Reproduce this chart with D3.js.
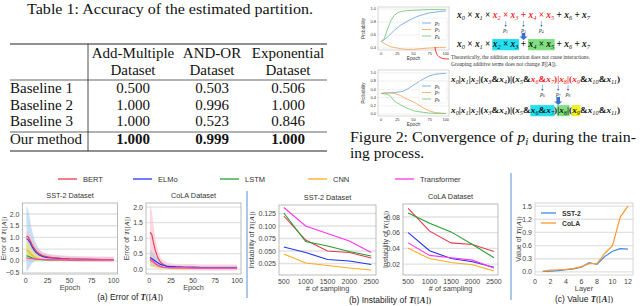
<!DOCTYPE html>
<html><head><meta charset="utf-8">
<script src="https://cdn.jsdelivr.net/npm/d3@7"></script>
<style>body{margin:0;background:#fff}svg{display:block}</style>
</head><body>
<svg id="c" width="640" height="306"></svg>
<script>
// ---------------- DATA ----------------
const tableTitle = "Table 1: Accuracy of the estimated partition.";
const tableCols = ["Add-Multiple", "AND-OR", "Exponential"];
const tableColSub = "Dataset";
const tableRows = ["Baseline 1", "Baseline 2", "Baseline 3", "Our method"];
const tableVals = [[0.500, 0.503, 0.506], [1.000, 0.996, 1.000], [1.000, 0.523, 0.846], [1.000, 0.999, 1.000]];

// Figure 2 small plots
const convEpochs1 = [0, 5, 10, 15, 20, 25, 30, 40, 50, 60, 75, 90, 100];
const p2 = [0.50, 0.53, 0.57, 0.62, 0.67, 0.71, 0.75, 0.81, 0.86, 0.90, 0.94, 0.96, 0.97];
const p3 = [0.50, 0.47, 0.44, 0.42, 0.41, 0.40, 0.39, 0.38, 0.38, 0.39, 0.40, 0.41, 0.41];
const p4 = [0.50, 0.55, 0.70, 0.82, 0.90, 0.94, 0.96, 0.975, 0.98, 0.985, 0.99, 0.99, 0.99];
const convEpochs2 = [0, 10, 15, 20, 30, 35, 40, 45, 50, 55, 65, 75, 85, 100];
const p6 = [0.50, 0.51, 0.51, 0.52, 0.54, 0.56, 0.60, 0.65, 0.70, 0.75, 0.85, 0.93, 0.97, 0.99];
const p7 = [0.50, 0.52, 0.51, 0.50, 0.45, 0.40, 0.36, 0.33, 0.29, 0.25, 0.15, 0.07, 0.03, 0.01];
const p8 = [0.50, 0.48, 0.42, 0.32, 0.22, 0.18, 0.14, 0.11, 0.08, 0.06, 0.04, 0.02, 0.015, 0.01];

// formulas: [variable subscript | operator, colour flag, highlight flag]
const formula1 = [["x0"],[" × "],["x1"],[" × "],["x2","r"],[" × ","r"],["x3","r"],[" + ","r"],["x4","r"],[" × ","r"],["x5","r"],[" + "],["x6"],[" + "],["x7"]];
const formula2 = [["x0"],[" × "],["x1"],[" × "],["x2","","c"],[" × ","","c"],["x3","","c"],[" + "],["x4","","g"],[" × ","","g"],["x5","","g"],[" + "],["x6"],[" + "],["x7"]];
const formula3 = [["x0"],["|"],["x1"],["|"],["x2"],["|("],["x3"],["&"],["x4"],[")|("],["x5"],["&"],["x6","r"],["&","r"],["x7","r"],[")","r"],["|","r"],["x8","r"],["|","r"],["(","r"],["x9","r"],["&"],["x10"],["&"],["x11"],[")"]];
const formula4 = [["x0"],["|"],["x1"],["|"],["x2"],["|("],["x3"],["&"],["x4"],[")|("],["x5"],["&"],["x6","","c"],["&","","c"],["x7","","c"],[")"],["|","","g"],["x8","","g"],["|","","g"],["("],["x9","","y"],["&"],["x10"],["&"],["x11"],[")"]];
const arrows1 = [[5, "2"], [7, "3"], [9, "4"]];
const arrows3 = [[13, "6"], [16, "7"], [18, "8"]];
const noteLines = ["Theoretically, the addition operation does not cause interactions.", "Grouping additive terms does not change "];

// Bottom figure
const models = ["BERT", "ELMo", "LSTM", "CNN", "Transformer"];
const modelColors = ["#e8384f", "#2233ee", "#22a030", "#ffac1c", "#ff33ee"];
const bandColors = ["#ffb6c6", "#9cc6ea", "#a6dca0", "#eded50", "#f5b0f0"];

const epochsA = [1, 3, 5, 7, 10, 13, 16, 20, 25, 30, 40, 50, 60, 70, 80, 90, 100];
// SST-2 error (mean, low, high)
const sstBert   = [1.05,1.02,0.88,0.72,0.52,0.38,0.29,0.22,0.17,0.14,0.11,0.09,0.08,0.07,0.07,0.06,0.06];
const sstBertLo = [0.85,0.82,0.68,0.52,0.34,0.22,0.15,0.09,0.05,0.02,-0.01,-0.02,-0.03,-0.04,-0.04,-0.05,-0.05];
const sstBertHi = [1.25,1.22,1.08,0.92,0.72,0.56,0.45,0.36,0.30,0.27,0.24,0.22,0.21,0.20,0.19,0.19,0.18];
const sstElmo   = [0.95,0.90,0.78,0.62,0.44,0.32,0.24,0.18,0.14,0.12,0.10,0.08,0.07,0.07,0.06,0.06,0.06];
const sstElmoLo = [-0.45,-0.38,-0.25,-0.12,-0.02,0.0,0.01,0.01,0.0,-0.01,-0.01,-0.02,-0.02,-0.02,-0.03,-0.03,-0.03];
const sstElmoHi = [2.35,2.15,1.80,1.36,0.92,0.65,0.48,0.36,0.29,0.25,0.21,0.19,0.17,0.16,0.16,0.15,0.15];
const sstLstm   = [0.22,0.20,0.17,0.13,0.09,0.07,0.06,0.05,0.04,0.04,0.04,0.03,0.03,0.03,0.03,0.03,0.03];
const sstLstmLo = [0.05,0.05,0.04,0.03,0.02,0.01,0.01,0.0,0.0,0.0,0.0,0.0,0.0,0.0,0.0,0.0,0.0];
const sstLstmHi = [0.40,0.36,0.30,0.24,0.17,0.13,0.11,0.09,0.08,0.08,0.07,0.07,0.07,0.06,0.06,0.06,0.06];
const sstCnn    = [0.45,0.42,0.34,0.26,0.17,0.12,0.09,0.07,0.05,0.05,0.04,0.04,0.04,0.03,0.03,0.03,0.03];
const sstCnnLo  = [0.08,0.06,0.04,0.02,0.01,0,0,0,0,0,0,0,0,0,0,0,0];
const sstCnnHi  = [0.82,0.78,0.64,0.50,0.34,0.24,0.18,0.14,0.11,0.10,0.09,0.08,0.08,0.07,0.07,0.07,0.07];
const sstTrans  = [0.12,0.11,0.10,0.09,0.08,0.07,0.06,0.06,0.05,0.05,0.05,0.04,0.04,0.04,0.04,0.04,0.04];
const sstTransLo= [0.06,0.06,0.05,0.05,0.04,0.03,0.03,0.02,0.02,0.02,0.02,0.01,0.01,0.01,0.01,0.01,0.01];
const sstTransHi= [0.18,0.17,0.15,0.14,0.12,0.11,0.10,0.09,0.09,0.08,0.08,0.08,0.07,0.07,0.07,0.07,0.07];
// CoLA error
const colaBert   = [1.18,1.12,0.85,0.60,0.36,0.22,0.15,0.10,0.08,0.07,0.06,0.06,0.05,0.05,0.05,0.05,0.05];
const colaBertLo = [0.30,0.34,0.25,0.20,0.12,0.06,0.03,0.0,-0.02,-0.03,-0.04,-0.04,-0.05,-0.05,-0.05,-0.05,-0.05];
const colaBertHi = [2.05,1.90,1.45,1.00,0.60,0.38,0.28,0.22,0.19,0.17,0.16,0.16,0.15,0.15,0.15,0.15,0.15];
const colaElmo   = [0.37,0.34,0.30,0.26,0.20,0.15,0.12,0.09,0.08,0.07,0.06,0.06,0.05,0.05,0.05,0.05,0.05];
const colaElmoLo = [0.12,0.10,0.10,0.10,0.08,0.06,0.05,0.03,0.03,0.02,0.01,0.01,0.0,0.0,0.0,0.0,0.0];
const colaElmoHi = [0.62,0.58,0.50,0.42,0.32,0.24,0.19,0.15,0.13,0.12,0.11,0.10,0.10,0.10,0.10,0.10,0.10];
const colaLstm   = [0.28,0.26,0.22,0.17,0.11,0.08,0.06,0.05,0.04,0.04,0.03,0.03,0.03,0.03,0.03,0.03,0.03];
const colaLstmLo = [0.08,0.07,0.06,0.05,0.03,0.02,0.01,0.01,0.0,0.0,0.0,0.0,0.0,0.0,0.0,0.0,0.0];
const colaLstmHi = [0.48,0.45,0.38,0.29,0.19,0.14,0.11,0.09,0.08,0.08,0.07,0.07,0.07,0.07,0.07,0.07,0.07];
const colaCnn    = [0.30,0.27,0.22,0.16,0.10,0.07,0.05,0.04,0.03,0.03,0.03,0.02,0.02,0.02,0.02,0.02,0.02];
const colaCnnLo  = [0.10,0.08,0.06,0.04,0.02,0.01,0,0,0,0,0,0,0,0,0,0,0];
const colaCnnHi  = [0.50,0.46,0.38,0.28,0.18,0.13,0.10,0.08,0.07,0.06,0.06,0.05,0.05,0.05,0.05,0.05,0.05];
const colaTrans  = [0.32,0.29,0.24,0.18,0.12,0.08,0.06,0.05,0.04,0.04,0.04,0.03,0.03,0.03,0.03,0.03,0.03];
const colaTransLo= [0.14,0.12,0.10,0.07,0.04,0.03,0.02,0.01,0.01,0.01,0.01,0.0,0.0,0.0,0.0,0.0,0.0];
const colaTransHi= [0.50,0.46,0.38,0.29,0.20,0.14,0.11,0.09,0.08,0.08,0.07,0.07,0.07,0.07,0.07,0.07,0.07];

// Instability
const samplings = [500, 1000, 1500, 2000, 2500];
const instSST = [
  [0.120, 0.072, 0.050, 0.047, 0.036], // BERT
  [0.058, 0.047, 0.033, 0.030, 0.023], // ELMo
  [0.126, 0.069, 0.060, 0.049, 0.040], // LSTM
  [0.044, 0.026, 0.021, 0.016, 0.012], // CNN
  [0.137, 0.100, 0.085, 0.070, 0.047]  // Transformer
];
const instCoLA = [
  [0.091, 0.062, 0.047, 0.045, 0.036],
  [0.060, 0.037, 0.027, 0.023, 0.016],
  [0.085, 0.072, 0.061, 0.045, 0.028],
  [0.040, 0.027, 0.022, 0.019, 0.011],
  [0.047, 0.031, 0.028, 0.025, 0.015]
];

// Value per layer
const layers = [1, 2, 3, 4, 5, 6, 7, 8, 9, 10, 11, 12];
const valSST  = [0.01, 0.02, 0.03, 0.05, 0.07, 0.11, 0.21, 0.17, 0.35, 0.47, 0.53, 0.52];
const valCoLA = [0.02, 0.04, 0.05, 0.06, 0.08, 0.12, 0.19, 0.19, 0.42, 0.60, 1.25, 1.50];

// ---------------- DRAW ----------------
const SERIF = "'Liberation Serif','Times New Roman',serif";
const SANS = "'Liberation Sans',Arial,sans-serif";
const svg = d3.select("#c");
svg.append("rect").attr("width", 640).attr("height", 306).attr("fill", "#fff");

// ===== Table =====
const tb = svg.append("g").attr("font-family", SERIF).attr("fill", "#111");
tb.append("text").attr("x", 27).attr("y", 14).attr("font-size", 15.5)
  .attr("textLength", 286).attr("lengthAdjust", "spacingAndGlyphs").text(tableTitle);
const colX = [133, 212, 288];
const rowY = [93, 110, 126, 144];
[[44, 1.1], [80, 0.7], [132, 0.7], [151, 1.1]].forEach(([y, w]) =>
  tb.append("line").attr("x1", 10).attr("x2", 327).attr("y1", y).attr("y2", y).attr("stroke", "#222").attr("stroke-width", w));
tb.append("line").attr("x1", 88).attr("x2", 88).attr("y1", 44).attr("y2", 151).attr("stroke", "#222").attr("stroke-width", 0.8);
tableCols.forEach((c, i) => {
  tb.append("text").attr("x", colX[i]).attr("y", 58).attr("text-anchor", "middle").attr("font-size", 15).text(c);
  tb.append("text").attr("x", colX[i]).attr("y", 75).attr("text-anchor", "middle").attr("font-size", 15).text(tableColSub);
});
const f3 = d3.format(".3f");
tableRows.forEach((r, j) => {
  tb.append("text").attr("x", 10).attr("y", rowY[j]).attr("font-size", 15).text(r);
  tableVals[j].forEach((v, i) => {
    tb.append("text").attr("x", colX[i]).attr("y", rowY[j]).attr("text-anchor", "middle").attr("font-size", 15)
      .attr("font-weight", j === 3 ? "bold" : "normal").text(f3(v));
  });
});

// ===== Figure 2 =====
function smallPlot(x0, x1, y0, y1, yd, yt, epochs, series, cols, labels, legY) {
  const g = svg.append("g").attr("font-family", SANS);
  const x = d3.scaleLinear().domain([-5, 105]).range([x0, x1]);
  const y = d3.scaleLinear().domain(yd).range([y1, y0]);
  yt.forEach(t => {
    g.append("line").attr("x1", x0).attr("x2", x1).attr("y1", y(t)).attr("y2", y(t)).attr("stroke", "#e6e6e6").attr("stroke-width", 0.6);
    g.append("text").attr("x", x0 - 2).attr("y", y(t) + 1.3).attr("text-anchor", "end").attr("font-size", 4).attr("fill", "#333").text(d3.format(".1f")(t));
  });
  [0, 25, 50, 75, 100].forEach(t => {
    g.append("text").attr("x", x(t)).attr("y", y1 + 5).attr("text-anchor", "middle").attr("font-size", 4).attr("fill", "#333").text(t);
  });
  g.append("rect").attr("x", x0).attr("y", y0).attr("width", x1 - x0).attr("height", y1 - y0).attr("fill", "none").attr("stroke", "#bbb").attr("stroke-width", 0.6);
  g.append("text").attr("x", (x0 + x1) / 2).attr("y", y1 + 9.5).attr("text-anchor", "middle").attr("font-size", 4.8).attr("fill", "#333").text("Epoch");
  g.append("text").attr("transform", `translate(${x0 - 13},${(y0 + y1) / 2}) rotate(-90)`).attr("text-anchor", "middle").attr("font-size", 4.5).attr("fill", "#444").text("Probability");
  const line = d3.line().x((d, i) => x(epochs[i])).y(d => y(d));
  series.forEach((s, k) => g.append("path").attr("d", line(s)).attr("fill", "none").attr("stroke", cols[k]).attr("stroke-width", 0.9));
  g.append("rect").attr("x", x1 - 30).attr("y", legY - 5).attr("width", 28).attr("height", 22).attr("fill", "#fff").attr("fill-opacity", 0.85).attr("stroke", "#ddd").attr("stroke-width", 0.4).attr("rx", 1);
  labels.forEach((l, k) => {
    const yy = legY + k * 6.5;
    g.append("line").attr("x1", x1 - 27).attr("x2", x1 - 18).attr("y1", yy).attr("y2", yy).attr("stroke", cols[k]).attr("stroke-width", 0.9);
    const t = g.append("text").attr("x", x1 - 14).attr("y", yy + 1.6).attr("font-size", 5.5).attr("font-family", SERIF).attr("fill", "#222");
    t.append("tspan").attr("font-style", "italic").text("p");
    t.append("tspan").attr("font-size", 3.6).attr("dy", 1).text(l);
  });
}
const pCols = ["#74a9dc", "#f6a862", "#78c878"];
smallPlot(378, 449, 7, 50, [0.37, 1.03], [0.4, 0.6, 0.8, 1.0], convEpochs1, [p2, p3, p4], pCols, ["2", "3", "4"], 23);
smallPlot(378, 449, 70, 116, [-0.05, 1.07], [0.0, 0.2, 0.4, 0.6, 0.8, 1.0], convEpochs2, [p6, p7, p8], pCols, ["6", "7", "8"], 86);

const HL = { c: "#22e0f0", g: "#80e080", y: "#f5f01e" };
function formula(x, y, toks, fs, targetW) {
  const g = svg.append("g").attr("font-family", SERIF);
  const inner = g.append("g");
  let cx = 0;
  const pos = [];
  toks.forEach(tk => {
    const s = tk[0];
    const col = tk[1] === "r" ? "#ee2222" : "#111";
    const t = inner.append("text").attr("x", cx).attr("y", 0).attr("font-size", fs).attr("fill", col);
    if (s[0] === "x" && s.length > 1) {
      t.append("tspan").attr("font-style", "italic").attr("font-weight", "bold").text("x");
      t.append("tspan").attr("font-size", fs * 0.68).attr("dy", fs * 0.22).attr("font-style", "italic").text(s.slice(1));
    } else {
      t.attr("font-weight", "bold").attr("xml:space", "preserve").style("white-space", "pre").text(s);
    }
    const w = t.node().getComputedTextLength();
    pos.push({ x: cx, w });
    cx += w;
  });
  const sc = targetW / cx;
  inner.attr("transform", `translate(${x},${y}) scale(${sc})`);
  let i = 0;
  while (i < toks.length) {
    const h = toks[i][2];
    if (h) {
      let j = i;
      while (j + 1 < toks.length && toks[j + 1][2] === h) j++;
      const a = pos[i].x, b = pos[j].x + pos[j].w;
      inner.insert("rect", ":first-child").attr("x", a - 0.5).attr("y", -fs * 0.85).attr("width", b - a + 1).attr("height", fs * 1.2).attr("fill", HL[h]);
      i = j + 1;
    } else i++;
  }
  return pos.map(p => ({ x: x + (p.x + p.w / 2) * sc, w: p.w * sc }));
}
function arrowDown(g, x, ya, yb, col, w) {
  g.append("line").attr("x1", x).attr("x2", x).attr("y1", ya).attr("y2", yb - 1.5).attr("stroke", col).attr("stroke-width", w);
  g.append("path").attr("d", `M${x - 1.2},${yb - 2}L${x + 1.2},${yb - 2}L${x},${yb}Z`).attr("fill", col);
}
function bigArrow(g, x, ya, yb) {
  g.append("path").attr("d", `M${x - 1.8},${ya}h3.6v${yb - ya - 3.5}h2.2l-4,3.5l-4,-3.5h2.2z`).attr("fill", "#3a6fd0");
}
const ann = svg.append("g");
const pos1 = formula(457, 18, formula1, 10, 133);
arrows1.forEach(([k, l]) => {
  arrowDown(ann, pos1[k].x, 21, 27, "#3a6fd0", 0.5);
  const t = ann.append("text").attr("x", pos1[k].x).attr("y", 32).attr("text-anchor", "middle").attr("font-size", 5.5).attr("font-family", SERIF).attr("fill", "#222");
  t.append("tspan").attr("font-style", "italic").text("p");
  t.append("tspan").attr("font-size", 3.6).attr("dy", 1).text(l);
});
bigArrow(ann, pos1[7].x, 33, 40);
formula(457, 47, formula2, 10, 133);
ann.append("path").attr("d", "M435,47 C436,57 440,59 449,59").attr("fill", "none").attr("stroke", "#ee2222").attr("stroke-width", 0.9);
ann.append("text").attr("x", 451).attr("y", 59).attr("font-family", SERIF).attr("font-size", 5.4).attr("fill", "#333").text(noteLines[0]);
const nt = ann.append("text").attr("x", 451).attr("y", 66).attr("font-family", SERIF).attr("font-size", 5.4).attr("fill", "#333").text(noteLines[1]);
nt.append("tspan").attr("font-style", "italic").attr("font-weight", "bold").text("T");
nt.append("tspan").text("([");
nt.append("tspan").attr("font-style", "italic").attr("font-weight", "bold").text("A");
nt.append("tspan").text("]).");

const pos3 = formula(451, 82, formula3, 10, 169);
arrows3.forEach(([k, l]) => {
  arrowDown(ann, pos3[k].x, 85, 91, "#3a6fd0", 0.5);
  const t = ann.append("text").attr("x", pos3[k].x).attr("y", 96).attr("text-anchor", "middle").attr("font-size", 5.5).attr("font-family", SERIF).attr("fill", "#222");
  t.append("tspan").attr("font-style", "italic").text("p");
  t.append("tspan").attr("font-size", 3.6).attr("dy", 1).text(l);
});
bigArrow(ann, pos3[16].x, 97, 105);
formula(451, 113, formula4, 10, 169);

// caption figure 2
const cap = svg.append("g").attr("font-family", SERIF).attr("font-size", 15.5).attr("fill", "#111");
const c1 = cap.append("text").attr("x", 350).attr("y", 142).attr("textLength", 286).attr("lengthAdjust", "spacingAndGlyphs").text("Figure 2: Convergence of ");
c1.append("tspan").attr("font-style", "italic").text("p");
c1.append("tspan").attr("font-style", "italic").attr("font-size", 11).attr("dy", 3).text("i");
c1.append("tspan").attr("dy", -3).text(" during the train-");
cap.append("text").attr("x", 350).attr("y", 158).text("ing process.");
svg.append("rect").attr("x", 0).attr("y", 166).attr("width", 640).attr("height", 140).attr("fill", "#fff");

// ===== Bottom figure =====
function mathT(sel, prefix, suffix) {
  sel.append("tspan").text(prefix);
  sel.append("tspan").attr("font-family", SERIF).attr("font-style", "italic").attr("font-weight", "bold").text("T");
  sel.append("tspan").attr("font-family", SERIF).text("([");
  sel.append("tspan").attr("font-family", SERIF).attr("font-style", "italic").attr("font-weight", "bold").text("A");
  sel.append("tspan").attr("font-family", SERIF).text("])" + (suffix || ""));
}
const legX = [83, 158, 245, 333, 420];
const bg = svg.append("g").attr("font-family", SANS);
models.forEach((m, i) => {
  bg.append("line").attr("x1", legX[i] - 25).attr("x2", legX[i] - 6).attr("y1", 179).attr("y2", 179).attr("stroke", modelColors[i]).attr("stroke-width", 1.3);
  bg.append("text").attr("x", legX[i]).attr("y", 182).attr("font-size", 7.5).attr("fill", "#333").text(m);
});

function panel(o) {
  const g = svg.append("g").attr("font-family", SANS);
  const x = d3.scaleLinear().domain(o.xd).range([o.x0, o.x1]);
  const y = d3.scaleLinear().domain(o.yd).range([o.y1, o.y0]);
  o.yt.forEach(t => {
    g.append("line").attr("x1", o.x0).attr("x2", o.x1).attr("y1", y(t)).attr("y2", y(t)).attr("stroke", "#e2e2e2").attr("stroke-width", 1.3);
    g.append("text").attr("x", o.x0 - 3).attr("y", y(t) + 2.5).attr("text-anchor", "end").attr("font-size", 7).attr("fill", "#444").text(o.yf(t));
  });
  o.xt.forEach(t => {
    g.append("text").attr("x", x(t)).attr("y", o.y1 + 9).attr("text-anchor", "middle").attr("font-size", 7).attr("fill", "#444").text(o.xf ? o.xf(t) : t);
  });
  g.append("rect").attr("x", o.x0).attr("y", o.y0).attr("width", o.x1 - o.x0).attr("height", o.y1 - o.y0).attr("fill", "none").attr("stroke", o.frame || "#aaa").attr("stroke-width", 0.8);
  if (o.title) g.append("text").attr("x", (o.x0 + o.x1) / 2).attr("y", o.y0 - 5).attr("text-anchor", "middle").attr("font-size", 7.3).attr("fill", "#333").text(o.title);
  g.append("text").attr("x", (o.x0 + o.x1) / 2).attr("y", o.y1 + 16).attr("text-anchor", "middle").attr("font-size", 7.3).attr("fill", "#444").text(o.xlabel);
  const yl = g.append("text").attr("transform", `translate(${o.ylx},${(o.y0 + o.y1) / 2}) rotate(-90)`).attr("text-anchor", "middle").attr("font-size", 7).attr("fill", "#444");
  mathT(yl, o.ylabel);
  const clip = "clip" + Math.round(o.x0);
  g.append("clipPath").attr("id", clip).append("rect").attr("x", o.x0).attr("y", o.y0).attr("width", o.x1 - o.x0).attr("height", o.y1 - o.y0);
  const body = g.insert("g", "rect").attr("clip-path", `url(#${clip})`);
  return { g: body, x, y };
}

function errorPanel(P, xs, means, los, his, order) {
  const area = d3.area().x((d, i) => P.x(xs[i])).y0((d, i) => P.y(d[0])).y1((d, i) => P.y(d[1]));
  const line = d3.line().x((d, i) => P.x(xs[i])).y(d => P.y(d));
  order.forEach(k => {
    P.g.append("path").attr("d", area(los[k].map((v, i) => [v, his[k][i]]))).attr("fill", bandColors[k]).attr("fill-opacity", 0.55);
  });
  order.forEach(k => {
    P.g.append("path").attr("d", line(means[k])).attr("fill", "none").attr("stroke", modelColors[k]).attr("stroke-width", 1.1);
  });
}
const fmt1 = d3.format(".1f");
const PA1 = panel({ x0: 22.5, x1: 117.5, y0: 203, y1: 274, xd: [-3.5, 104.5], yd: [-0.56, 2.47], xt: [0, 25, 50, 75, 100], yt: [-0.5, 0, 0.5, 1.0, 1.5, 2.0], yf: fmt1, title: "SST-2 Dataset", xlabel: "Epoch", ylabel: "Error of ", ylx: 6 });
errorPanel(PA1, epochsA, [sstBert, sstElmo, sstLstm, sstCnn, sstTrans], [sstBertLo, sstElmoLo, sstLstmLo, sstCnnLo, sstTransLo], [sstBertHi, sstElmoHi, sstLstmHi, sstCnnHi, sstTransHi], [1, 0, 2, 3, 4]);
const PA2 = panel({ x0: 146, x1: 241, y0: 203, y1: 274, xd: [-3.5, 104.5], yd: [-0.16, 2.13], xt: [0, 25, 50, 75, 100], yt: [0, 0.5, 1.0, 1.5, 2.0], yf: fmt1, title: "CoLA Dataset", xlabel: "Epoch", ylabel: "Error of ", ylx: 129 });
errorPanel(PA2, epochsA, [colaBert, colaElmo, colaLstm, colaCnn, colaTrans], [colaBertLo, colaElmoLo, colaLstmLo, colaCnnLo, colaTransLo], [colaBertHi, colaElmoHi, colaLstmHi, colaCnnHi, colaTransHi], [0, 1, 2, 3, 4]);

function instPanel(P, data) {
  const line = d3.line().x((d, i) => P.x(samplings[i])).y(d => P.y(d));
  [3, 1, 4, 0, 2].forEach(k => P.g.append("path").attr("d", line(data[k])).attr("fill", "none").attr("stroke", modelColors[k]).attr("stroke-width", 1.1));
}
const PB1 = panel({ x0: 279, x1: 376, y0: 205, y1: 275, xd: [390, 2610], yd: [0.002, 0.142], xt: samplings, yt: [0.025, 0.05, 0.075, 0.1, 0.125], yf: d3.format(".3f"), title: "SST-2 Dataset", xlabel: "# of sampling", ylabel: "Instability of ", ylx: 254 });
instPanel(PB1, instSST);
const PB2 = panel({ x0: 403, x1: 498, y0: 204, y1: 275, xd: [380, 2595], yd: [0.006, 0.0966], xt: samplings, yt: [0.02, 0.04, 0.06, 0.08], yf: d3.format(".2f"), title: "CoLA Dataset", xlabel: "# of sampling", ylabel: "Instability of ", ylx: 388 });
instPanel(PB2, instCoLA);

const PC = panel({ x0: 535, x1: 633, y0: 203, y1: 275, xd: [0, 12.65], yd: [-0.07, 1.57], xt: [0, 2, 4, 6, 8, 10, 12], yt: [0, 0.3, 0.6, 0.9, 1.2, 1.5], yf: fmt1, title: "", xlabel: "Layer", ylabel: "Value of ", ylx: 521, frame: "#ccc" });
const lineC = d3.line().x((d, i) => PC.x(layers[i])).y(d => PC.y(d));
PC.g.append("path").attr("d", lineC(valSST)).attr("fill", "none").attr("stroke", "#3d8be0").attr("stroke-width", 1.2);
PC.g.append("path").attr("d", lineC(valCoLA)).attr("fill", "none").attr("stroke", "#ff9a30").attr("stroke-width", 1.2);
const lc = svg.append("g").attr("font-family", SANS);
[["SST-2", "#3d8be0", 213], ["CoLA", "#ff9a30", 223]].forEach(([n, c, yy]) => {
  lc.append("line").attr("x1", 541).attr("x2", 556).attr("y1", yy).attr("y2", yy).attr("stroke", c).attr("stroke-width", 1.3);
  lc.append("text").attr("x", 562).attr("y", yy + 2.5).attr("font-size", 6.8).attr("font-weight", "bold").attr("fill", "#333").text(n);
});

svg.append("line").attr("x1", 247).attr("x2", 247).attr("y1", 191).attr("y2", 298).attr("stroke", "#8fb6e0").attr("stroke-width", 1.5);
svg.append("line").attr("x1", 511).attr("x2", 511).attr("y1", 173).attr("y2", 300).attr("stroke", "#8fb6e0").attr("stroke-width", 1.5);

const capB = svg.append("g").attr("font-family", SANS).attr("font-size", 8.5).attr("fill", "#222");
mathT(capB.append("text").attr("x", 130).attr("y", 300).attr("text-anchor", "middle"), "(a) Error of ");
mathT(capB.append("text").attr("x", 390).attr("y", 303).attr("text-anchor", "middle"), "(b) Instability of ");
mathT(capB.append("text").attr("x", 584).attr("y", 302).attr("text-anchor", "middle"), "(c) Value ");
</script>
</body></html>
